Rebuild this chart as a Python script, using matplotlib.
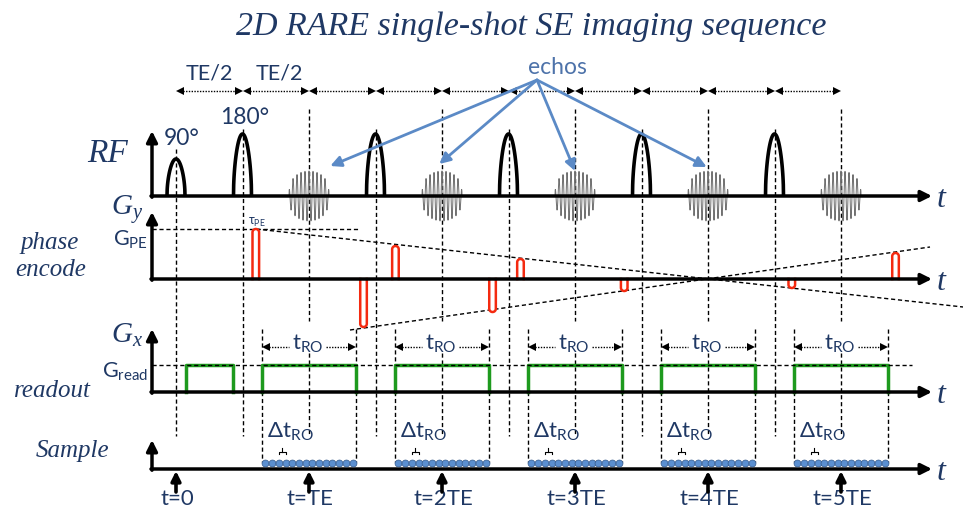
import numpy as np
import matplotlib
matplotlib.use('Agg')
import matplotlib.pyplot as plt

# ---------------- data (time in units of TE) ----------------
title = '2D RARE single-shot SE imaging sequence'
rf_times = [0.0, 0.5, 1.5, 2.5, 3.5, 4.5]
rf_heights = [37, 62, 62, 62, 62, 62]
rf_labels = ['90°', '180°']
echo_times = [1, 2, 3, 4, 5]
echo_amp = 25
pe_times = [0.60, 1.41, 1.65, 2.38, 2.59, 3.37, 4.63, 5.41]
pe_amps = [50, -48, 33, -33, 20, -12, -9, 26]
g_pe = 50
g_read = 27
prephase = [0.075, 0.43]
ro_half = 0.353
n_samples = 14
te_marks = ['t=0', 't=TE', 't=2TE', 't=3TE', 't=4TE', 't=5TE']
te_mark_times = [0, 1, 2, 3, 4, 5]
half_te_marks = [0.0, 0.5, 1.0, 1.5, 2.0, 2.5, 3.0, 3.5, 4.0, 4.5, 5.0]
echo_arrow_targets = [(1.16, 167), (1.98, 165), (3.0, 172), (3.99, 168)]

# ---------------- layout ----------------
W, H = 963, 510
X0, TE_PX = 176.0, 133.0
NAVY = '#1f3864'
BLUE = '#5b8ac6'
RED = '#f42a10'
GREEN = '#1e9a1e'
SERIF = 'Liberation Serif'
SANS = 'Lato'

def P(px):
    return (px - X0) / TE_PX

DX = 1.0 / TE_PX

Y_RF, Y_PE, Y_RO, Y_S = 197, 280, 393, 470

fig = plt.figure(figsize=(W / 100, H / 100), dpi=100)
ax = fig.add_axes([0, 0, 1, 1])
ax.set_xlim(P(0), P(W))
ax.set_ylim(H, 0)
ax.axis('off')

def arrow(x0, y0, x1, y1, color='k', lw=2.5, ms=16, z=5):
    ax.annotate('', xy=(x1, y1), xytext=(x0, y0),
                arrowprops=dict(arrowstyle='-|>', color=color, lw=lw,
                                mutation_scale=ms, shrinkA=0, shrinkB=0),
                zorder=z)

def vdash(t, y0, y1):
    ax.plot([t, t], [y0, y1], color='k', lw=1.0, ls=(0, (3, 2)), zorder=2)

# ---- title ----
ax.text(P(531), 27, title, fontsize=24.5, family=SERIF, style='italic',
        color=NAVY, ha='center', va='center')

# ---- axes arrows ----
for yb, ytop in [(Y_RF, 132), (Y_PE, 213), (Y_RO, 330), (Y_S, 441)]:
    arrow(P(151), yb, P(932), yb)
    arrow(P(152), yb + 1.2, P(152), ytop)
    ax.text(P(941), yb + 3, 't', fontsize=23, family=SERIF, style='italic',
            color=NAVY, ha='center', va='center')

# ---- row labels ----
ax.text(P(108), 154, 'RF', fontsize=24, family=SERIF, style='italic',
        color=NAVY, ha='center', va='center')
ax.text(P(50), 243, 'phase', fontsize=18, family=SERIF, style='italic',
        color=NAVY, ha='center', va='center')
ax.text(P(51), 270, 'encode', fontsize=18, family=SERIF, style='italic',
        color=NAVY, ha='center', va='center')
ax.text(P(52), 391, 'readout', fontsize=18, family=SERIF, style='italic',
        color=NAVY, ha='center', va='center')
ax.text(P(73), 451, 'Sample', fontsize=18, family=SERIF, style='italic',
        color=NAVY, ha='center', va='center')
ax.text(P(143), 210, r'$\mathregular{G_y}$', fontsize=21, family=SERIF,
        style='italic', color=NAVY, ha='right', va='center')
ax.text(P(143), 335, r'$\mathregular{G_x}$', fontsize=21, family=SERIF,
        style='italic', color=NAVY, ha='right', va='center')
ax.text(P(148), 240, r'$\mathregular{G_{PE}}$', fontsize=15.5, family=SANS,
        color=NAVY, ha='right', va='center')
ax.text(P(148), 372, r'$\mathregular{G_{read}}$', fontsize=15.5, family=SANS,
        color=NAVY, ha='right', va='center')

# ---- TE/2 dimension row ----
Y_DIM = 92
for a, b in zip(half_te_marks[:-1], half_te_marks[1:]):
    ax.plot([a + 4 * DX, b - 4 * DX], [Y_DIM, Y_DIM], color='k', lw=1.0,
            ls=(0, (1, 1)))
    ax.plot([a + 4 * DX], [Y_DIM], marker='<', color='k', ms=6, mew=0)
    ax.plot([b - 4 * DX], [Y_DIM], marker='>', color='k', ms=6, mew=0)
ax.text(0.25, 74, 'TE/2', fontsize=15.5, family=SANS, color=NAVY,
        ha='center', va='center')
ax.text(0.78, 74, 'TE/2', fontsize=15.5, family=SANS, color=NAVY,
        ha='center', va='center')

# ---- RF pulses ----
w_rf = 9 * DX
for t, h in zip(rf_times, rf_heights):
    u = np.linspace(-1, 1, 101)
    y = Y_RF - h * np.cos(np.pi * u / 2) ** 0.5
    ax.plot(t + u * w_rf, y, color='k', lw=2.6, solid_capstyle='butt', zorder=4)
ax.text(P(182), 139, rf_labels[0], fontsize=16.5, family=SANS, color=NAVY,
        ha='center', va='center')
ax.text(P(245), 118, rf_labels[1], fontsize=16.5, family=SANS, color=NAVY,
        ha='center', va='center')

# ---- echoes ----
w_e = 20 * DX
for t in echo_times:
    xs = np.linspace(-1, 1, 600)
    env = np.sqrt(np.clip(1 - xs ** 2, 0, None)) ** 0.7
    ys = Y_RF - echo_amp * env * np.sin(2 * np.pi * xs * 20 / 4.0 + np.pi / 2)
    ax.plot(t + xs * w_e, ys, color='#707070', lw=0.7, zorder=3)

# ---- echo annotations ----
ax.text(P(557), 67, 'echos', fontsize=16.5, family=SANS, color='#4e73aa',
        ha='center', va='center')
for tx, ty in echo_arrow_targets:
    arrow(P(537), 81, tx, ty, color=BLUE, lw=2.0, ms=16, z=6)

# ---- vertical dashed guide lines ----
vdash(rf_times[0], 150, 437)
for t in rf_times[1:]:
    vdash(t, 130, 437)
for t in echo_times:
    vdash(t, 110, 322)
    vdash(t, 354, 437)

# ---- phase encode ----
ax.plot([P(152), P(358)], [Y_PE - g_pe, Y_PE - g_pe], color='k', lw=1.0,
        ls=(0, (3, 2)), zorder=2)
ax.plot([P(256), P(963)], [230, 308], color='k', lw=1.0, ls=(0, (3, 2)), zorder=2)
ax.plot([P(350), P(930)], [331, 248], color='k', lw=1.0, ls=(0, (3, 2)), zorder=2)
ax.text(P(257), 222, r'$\mathregular{τ_{PE}}$', fontsize=9, family=SANS,
        color=NAVY, ha='center', va='center')
wb = 3.3
for t, a in zip(pe_times, pe_amps):
    s = np.sign(a)
    r = wb
    th = np.linspace(np.pi, 0, 30)
    xs = np.concatenate([[t - wb * DX], t + wb * DX * np.cos(th), [t + wb * DX]])
    ys = np.concatenate([[Y_PE], Y_PE - s * (abs(a) - r) - s * r * np.sin(th), [Y_PE]])
    ax.fill(xs, ys, color='white', zorder=3)
    ax.plot(xs, ys, color=RED, lw=1.8, zorder=4)

# ---- readout gradient ----
ax.plot([P(152), P(912)], [Y_RO - g_read, Y_RO - g_read], color='k', lw=1.0,
        ls=(0, (3, 2)), zorder=5)
ax.plot([prephase[0], prephase[0], prephase[1], prephase[1]],
        [Y_RO, Y_RO - g_read, Y_RO - g_read, Y_RO], color=GREEN, lw=2.5, zorder=4)
for t in echo_times:
    a, b = t - ro_half, t + ro_half
    ax.plot([a, a, b, b], [Y_RO, Y_RO - g_read, Y_RO - g_read, Y_RO],
            color=GREEN, lw=2.5, zorder=4)
    vdash(a, 330, 463)
    vdash(b, 330, 463)
    # t_RO dimension
    yd = 348
    ax.plot([a + 4 * DX, t - 20 * DX], [yd, yd], color='k', lw=1.0, ls=(0, (1, 1)))
    ax.plot([t + 17 * DX, b - 4 * DX], [yd, yd], color='k', lw=1.0, ls=(0, (1, 1)))
    ax.plot([a + 4 * DX], [yd], marker='<', color='k', ms=6, mew=0)
    ax.plot([b - 4 * DX], [yd], marker='>', color='k', ms=6, mew=0)
    ax.text(t - 1 * DX, 344, r'$\mathregular{t_{RO}}$', fontsize=16, family=SANS,
            color=NAVY, ha='center', va='center')

# ---- samples ----
for t in echo_times:
    a, b = t - ro_half, t + ro_half
    step = (b - a) / n_samples
    xs = a + step * (np.arange(n_samples) + 0.5)
    ax.plot(xs, np.full(n_samples, 463.5), ls='none', marker='o', ms=5.0,
            mfc='#5b8fd0', mec='#34598a', mew=0.5, zorder=6)
    ax.text(t - 19 * DX, 432, r'$\mathregular{Δt_{RO}}$', fontsize=16, family=SANS,
            color=NAVY, ha='center', va='center')
    x1, x2 = xs[2], xs[3]
    xm = 0.5 * (x1 + x2)
    ax.plot([x1, x1, x2, x2], [455, 452.5, 452.5, 455], color='k', lw=0.8)
    ax.plot([xm, xm], [452.5, 449], color='k', lw=0.8)

for tm, lab in zip(te_mark_times, te_marks):
    arrow(tm, 493, tm, 472, lw=2.6, ms=14)
    ax.text(tm + 1 * DX, 499, lab, fontsize=16, family=SANS, color=NAVY,
            ha='center', va='center')

fig.savefig('out.png', dpi=100)
